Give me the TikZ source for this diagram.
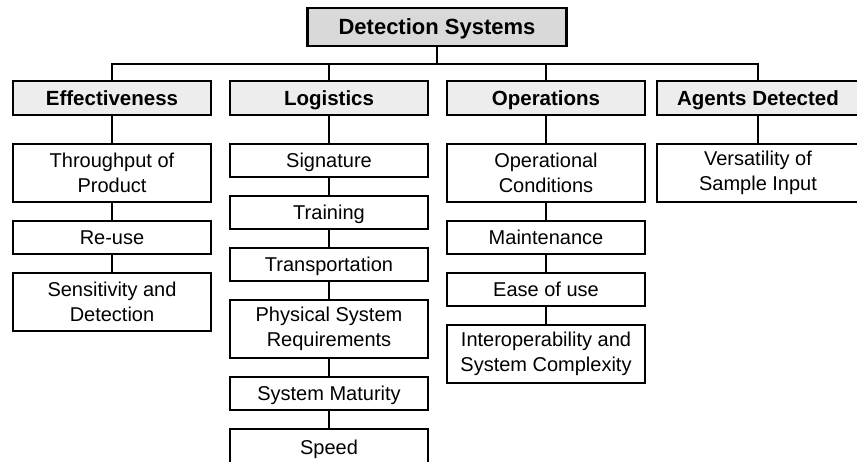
\documentclass[tikz,border=0pt]{standalone}
\usepackage{fontspec}
\setmainfont{Liberation Sans}
\usepackage{tikz}
\usetikzlibrary{positioning}

\begin{document}
\begin{tikzpicture}[x=1pt, y=-1pt, node distance=19pt,
    cell/.style={rectangle, draw, line width=2.4pt, outer sep=0pt, fill=white, align=center, minimum width=198pt, inner sep=2pt, font=\fontsize{20}{25}\selectfont},
    box/.style={cell, minimum height=33pt, text height=14pt, text depth=0pt},
    tall/.style={cell, minimum height=58pt},
    catbox/.style={box, minimum height=34pt, fill=gray!14, font=\fontsize{20.5}{25}\selectfont\bfseries},
    rootbox/.style={box, fill=gray!30, minimum width=259pt, minimum height=38pt, text height=15pt, font=\fontsize{22}{25}\selectfont\bfseries},
    link/.style={line width=2.8pt}]
    \useasboundingbox (0,0) rectangle (857,461);
    \clip (0,0) rectangle (857,461);

    % top of the tree and the four branches
    \node[rootbox] (sys) at (437,27) {Detection Systems};
    \node[catbox] (eff) at (112,98) {Effectiveness};
    \node[catbox] (logi) at (329,98) {Logistics};
    \node[catbox] (ops) at (546,98) {Operations};
    \node[catbox, minimum width=202pt] (agents) at (758,98) {Agents Detected};

    % effectiveness
    \node[tall, below=29pt of eff] (thru) {Throughput of\\Product};
    \node[box, below=of thru] (reuse) {Re-use};
    \node[tall, below=of reuse] (sens) {Sensitivity and\\Detection};

    % logistics
    \node[box, below=29pt of logi] (sig) {Signature};
    \node[box, below=of sig] (train) {Training};
    \node[box, below=of train] (trans) {Transportation};
    \node[tall, below=of trans] (phys) {Physical System\\Requirements};
    \node[box, below=of phys] (mat) {System Maturity};
    \node[box, below=of mat, minimum height=36pt] (speed) {Speed};

    % operations
    \node[tall, below=29pt of ops] (cond) {Operational\\Conditions};
    \node[box, below=of cond] (maint) {Maintenance};
    \node[box, below=of maint] (ease) {Ease of use};
    \node[tall, below=of ease] (inter) {Interoperability and\\System Complexity};

    % agents detected
    \node[tall, below=29pt of agents, minimum width=202pt] (vers) {Versatility of\\Sample Input};

    % bus from the root down to each branch
    \foreach \c in {eff,logi,ops,agents}
        \draw[link] (sys.south) -- ++(0,18) -| (\c.north);
    \foreach \a/\b in {eff/thru,thru/reuse,reuse/sens,
                       logi/sig,sig/train,train/trans,trans/phys,phys/mat,mat/speed,
                       ops/cond,cond/maint,maint/ease,ease/inter,
                       agents/vers}
        \draw[link] (\a.south) -- (\b.north);
\end{tikzpicture}
\end{document}
